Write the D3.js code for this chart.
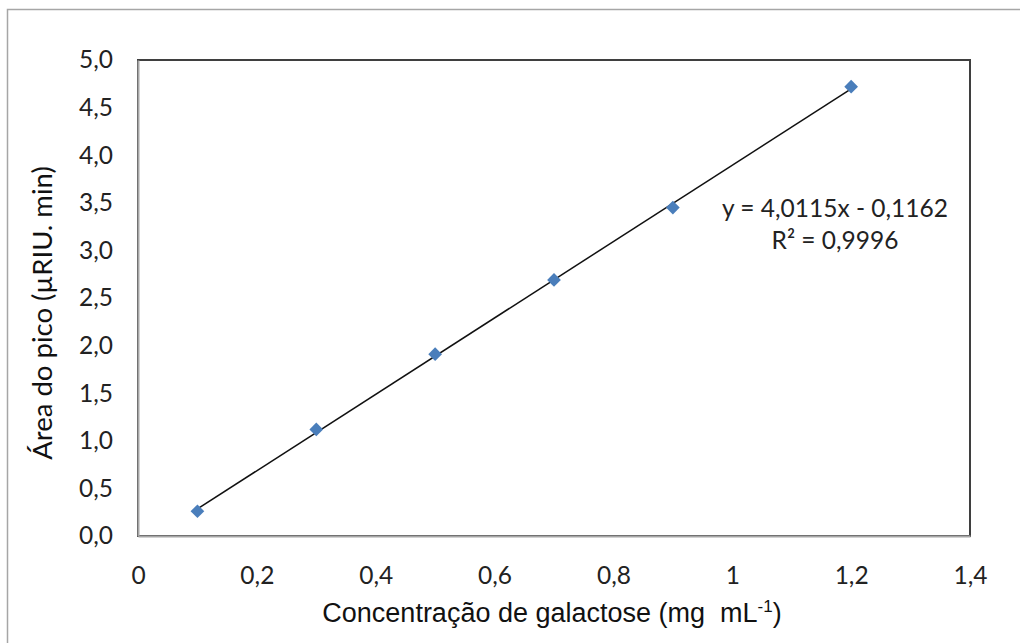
<!DOCTYPE html>
<html>
<head>
<meta charset="utf-8">
<script src="https://cdn.jsdelivr.net/npm/d3@7"></script>
<style>
  html, body { margin: 0; padding: 0; background: #fff; }
  svg { display: block; }
</style>
</head>
<body>
<svg id="chart" width="1020" height="643"></svg>
<script>
// Calibration data: galactose concentration vs. peak area
const concentration = [0.1, 0.3, 0.5, 0.7, 0.9, 1.2];
const peakArea = [0.26, 1.12, 1.91, 2.69, 3.45, 4.72];
const xTicks = [0, 0.2, 0.4, 0.6, 0.8, 1, 1.2, 1.4];
const yTicks = [0, 0.5, 1, 1.5, 2, 2.5, 3, 3.5, 4, 4.5, 5];
const fitSlope = 4.0115;
const fitIntercept = -0.1162;
const fitR2 = 0.9996;

const svg = d3.select("#chart");
const W = 1020, H = 643;
const m = { left: 138, top: 60, right: 970, bottom: 536 };

const x = d3.scaleLinear().domain([0, 1.4]).range([m.left, m.right]);
const y = d3.scaleLinear().domain([0, 5]).range([m.bottom, m.top]);

const dec = v => String(v).replace(".", ",");
const yFmt = d => d3.format(".1f")(d).replace(".", ",");
const xFmt = d => (Number.isInteger(d) ? String(d) : d3.format(".1f")(d).replace(".", ","));

const tickFont = "Lato, 'Open Sans', sans-serif";

// Outer chart-area frame
svg.append("rect")
  .attr("x", 7.5).attr("y", 9.5)
  .attr("width", W + 10).attr("height", H + 10)
  .attr("fill", "#fff").attr("stroke", "#a6a6a6").attr("stroke-width", 1.5);

// Plot-area frame (darker top/right edges)
svg.append("rect")
  .attr("x", m.left).attr("y", m.top)
  .attr("width", m.right - m.left).attr("height", m.bottom - m.top)
  .attr("fill", "#fff").attr("stroke", "#3f3f3f").attr("stroke-width", 2);

// Axes (no tick marks, light grey domain lines)
const xAxis = svg.append("g")
  .attr("transform", `translate(0,${m.bottom})`)
  .call(d3.axisBottom(x).tickValues(xTicks).tickFormat(xFmt).tickSize(0).tickPadding(31));
const yAxis = svg.append("g")
  .attr("transform", `translate(${m.left},0)`)
  .call(d3.axisLeft(y).tickValues(yTicks).tickFormat(yFmt).tickSize(0).tickPadding(25));

[xAxis, yAxis].forEach(g => {
  g.select(".domain").attr("stroke", "#a6a6a6").attr("stroke-width", 2);
  g.selectAll("text")
    .attr("font-family", tickFont)
    .attr("font-size", 24.5)
    .attr("fill", "#222");
});

// Linear fit line over the data range
const xr = d3.extent(concentration);
svg.append("line")
  .attr("x1", x(xr[0])).attr("y1", y(fitSlope * xr[0] + fitIntercept))
  .attr("x2", x(xr[1])).attr("y2", y(fitSlope * xr[1] + fitIntercept))
  .attr("stroke", "#111").attr("stroke-width", 1.5);

// Diamond markers
const diamond = d3.symbol().type(d3.symbolDiamond2).size(120);
svg.append("g").selectAll("path")
  .data(concentration.map((c, i) => [c, peakArea[i]]))
  .join("path")
  .attr("d", diamond)
  .attr("transform", d => `translate(${x(d[0])},${y(d[1])})`)
  .attr("fill", "#4a7ebb");

// Regression equation
const eq = svg.append("text")
  .attr("font-family", tickFont)
  .attr("font-size", 24.5).attr("fill", "#222")
  .attr("text-anchor", "middle");
eq.append("tspan").attr("x", 835).attr("y", 217)
  .text(`y = ${dec(fitSlope)}x - ${dec(Math.abs(fitIntercept))}`);
eq.append("tspan").attr("x", 835).attr("y", 249)
  .text(`R² = ${dec(fitR2)}`);

// Axis titles
const xTitle = svg.append("text")
  .attr("x", 552).attr("y", 622)
  .attr("text-anchor", "middle")
  .attr("font-family", "'Liberation Sans', Arial, sans-serif")
  .attr("font-size", 27).attr("fill", "#111");
xTitle.append("tspan").text("Concentração de galactose (mg\u00a0 mL");
xTitle.append("tspan").attr("dy", -10).attr("font-size", 17).text("-1");
xTitle.append("tspan").attr("dy", 10).text(")");

svg.append("text")
  .attr("transform", "translate(52,313) rotate(-90)")
  .attr("text-anchor", "middle")
  .attr("font-family", tickFont)
  .attr("font-size", 27.5).attr("fill", "#111")
  .text("Área do pico (µRIU. min)");
</script>
</body>
</html>
